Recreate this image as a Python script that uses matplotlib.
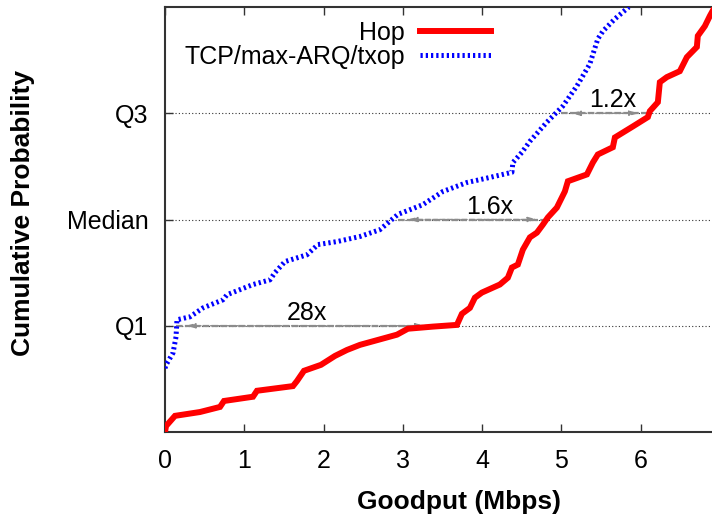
import matplotlib
matplotlib.use("Agg")
import matplotlib.pyplot as plt

plt.rcParams['font.family'] = ['Liberation Sans', 'DejaVu Sans']
plt.rcParams['font.size'] = 18

# goodput CDF for hop-based transfer (Mbps, cumulative fraction)
hop_x = [0.0, 0.013, 0.126, 0.441, 0.694, 0.744, 1.110, 1.160, 1.614, 1.665, 1.753,
         1.967, 2.144, 2.295, 2.459, 2.926, 3.064, 3.380, 3.682, 3.745, 3.846,
         3.909, 3.997, 4.224, 4.325, 4.376, 4.451, 4.514, 4.603, 4.691, 4.767,
         4.830, 4.943, 5.044, 5.082, 5.322, 5.397, 5.460, 5.649, 5.675, 5.902,
         6.091, 6.116, 6.217, 6.242, 6.330, 6.494, 6.583, 6.709, 6.721, 6.810,
         6.873, 6.935]
hop_y = [0.0, 0.014, 0.038, 0.047, 0.059, 0.073, 0.083, 0.097, 0.108, 0.120, 0.144,
         0.158, 0.179, 0.193, 0.205, 0.229, 0.243, 0.248, 0.252, 0.278, 0.292,
         0.316, 0.328, 0.347, 0.363, 0.387, 0.394, 0.429, 0.458, 0.469, 0.488,
         0.505, 0.528, 0.566, 0.590, 0.606, 0.634, 0.653, 0.670, 0.693, 0.719,
         0.741, 0.755, 0.776, 0.823, 0.835, 0.849, 0.882, 0.906, 0.932, 0.955,
         0.979, 1.0]

# goodput CDF for TCP with max ARQ / txop
tcp_x = [0.0, 0.013, 0.101, 0.139, 0.151, 0.315, 0.479, 0.731, 0.782, 1.110, 1.324,
         1.387, 1.513, 1.791, 1.929, 2.169, 2.459, 2.711, 2.938, 3.253, 3.506,
         3.808, 4.098, 4.376, 4.388, 4.502, 4.603, 4.817, 5.019, 5.195, 5.359,
         5.460, 5.523, 5.675, 5.851]
tcp_y = [0.150, 0.158, 0.186, 0.224, 0.264, 0.271, 0.292, 0.311, 0.323, 0.347, 0.358,
         0.375, 0.401, 0.417, 0.441, 0.448, 0.460, 0.476, 0.512, 0.535, 0.566,
         0.587, 0.599, 0.611, 0.634, 0.658, 0.684, 0.729, 0.767, 0.814, 0.866,
         0.925, 0.943, 0.972, 1.0]

quantiles = [0.25, 0.5, 0.75]
quantile_labels = ['Q1', 'Median', 'Q3']

# improvement arrows between the two curves at each quantile
gain_q = [0.25, 0.5, 0.75]
gain_tcp = [0.14, 2.94, 5.00]
gain_hop = [3.40, 4.82, 6.10]
gain_text = ['28x', '1.6x', '1.2x']
gain_text_x = [1.79, 4.10, 5.65]

fig = plt.figure(figsize=(7.12, 5.16), dpi=100)
ax = fig.add_axes([165 / 712, 84 / 516, 547 / 712, 425 / 516])

for q in quantiles:
    ax.axhline(q, color='#333333', lw=0.8, ls=(0, (1, 2)), zorder=1)

for q, a, b in zip(gain_q, gain_tcp, gain_hop):
    ax.plot([a, b], [q, q], color='#8c8c8c', lw=1.6, ls=(0, (3, 1)), zorder=2)
    ax.annotate('', xy=(b, q), xytext=(a, q),
                arrowprops=dict(arrowstyle='<|-|>,head_length=0.3,head_width=0.08',
                                color='#8c8c8c', lw=1.0, ls='--',
                                shrinkA=7, shrinkB=7),
                zorder=2)
for q, t, tx in zip(gain_q, gain_text, gain_text_x):
    ax.text(tx, q + 0.014, t, ha='center', va='baseline', fontsize=18)

ax.plot(hop_x, hop_y, color='#ff0000', lw=4.3, solid_joinstyle='miter',
        label='Hop', zorder=4)
ax.plot(tcp_x, tcp_y, color='#0000ff', lw=3.6, ls=(0, (0.45, 0.6)),
        dash_capstyle='butt', label='TCP/max-ARQ/txop', zorder=3)

ax.set_xlim(0, 6.9)
ax.set_ylim(0, 1)
ax.set_xticks(range(7))
ax.set_yticks(quantiles)
ax.set_yticklabels(quantile_labels)
ax.tick_params(axis='x', direction='in', length=6, width=1, top=True, pad=12,
               color='#333333')
ax.tick_params(axis='y', direction='in', length=6, width=1, pad=12,
               color='#333333')
for s in ['left', 'bottom', 'top']:
    ax.spines[s].set_linewidth(1.5)
    ax.spines[s].set_color('#333333')
ax.spines['right'].set_visible(False)

ax.set_xlabel('Goodput (Mbps)', fontweight='bold', fontsize=19)
ax.xaxis.set_label_coords((459 - 165) / 547, -(490 - 432) / 425)
ax.set_ylabel('Cumulative Probability', fontweight='bold', fontsize=19)
ax.yaxis.set_label_coords(-(165 - 35) / 547, 0.515)

ax.legend(loc='upper right', bbox_to_anchor=((491 - 165) / 547, 0.968),
          frameon=False, markerfirst=False, handlelength=2.85,
          handletextpad=0.6, labelspacing=0.0, borderpad=0, borderaxespad=0,
          fontsize=18)

fig.savefig('out.png', dpi=100)
